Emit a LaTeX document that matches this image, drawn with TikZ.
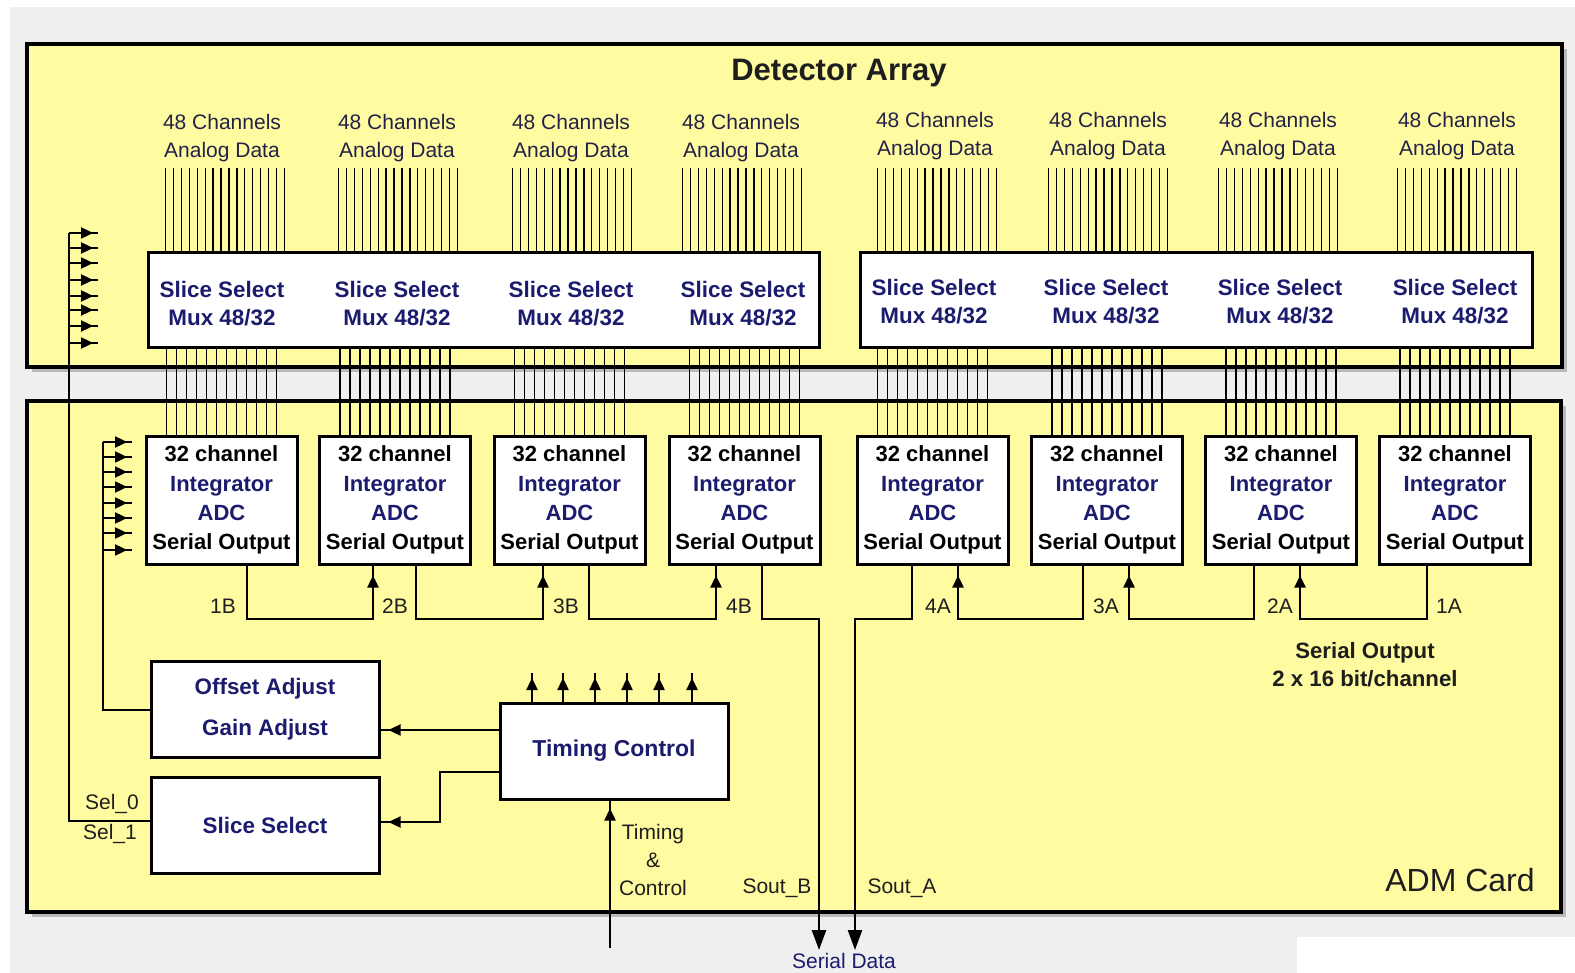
\documentclass[tikz,border=0pt]{standalone}
\usepackage{fontspec}
\setmainfont{Liberation Sans}
\usetikzlibrary{arrows.meta,decorations.markings}
\definecolor{bggray}{RGB}{239,239,239}
\definecolor{cardyellow}{RGB}{255,251,160}
\definecolor{navy}{RGB}{28,28,110}
\definecolor{labnavy}{RGB}{34,34,72}
\definecolor{labblack}{RGB}{30,30,30}
\definecolor{shadowgray}{RGB}{185,185,185}
\tikzset{
  panel/.style={draw=black, line width=1.6pt, fill=cardyellow, inner sep=0pt},
  whitebox/.style={draw=black, line width=1.5pt, fill=white, inner sep=0pt},
  adcbox/.style={whitebox, minimum width=75.5pt, minimum height=64pt, align=center,
     font=\bfseries\fontsize{11}{14.6}\selectfont, text=black},
  wire/.style={line width=1.2pt},
  thinwire/.style={line width=0.7pt},
  tipat/.style={postaction={decorate}, decoration={markings,
     mark=at position -#1 with {\arrow{Triangle[length=6pt,width=5.5pt]}}}},
  bigtip/.style={-{Triangle[length=10pt,width=7pt]}},
  lab/.style={font=\fontsize{10.5}{14}\selectfont, text=labblack, inner sep=0pt, align=center},
  chlab/.style={lab, text=labnavy},
  muxlab/.style={font=\bfseries\fontsize{11.2}{14}\selectfont, text=navy, inner sep=0pt, align=center},
  blacklab/.style={font=\bfseries\fontsize{11.1}{14}\selectfont, text=labblack, inner sep=0pt, align=center},
  title/.style={font=\bfseries\fontsize{15.5}{18}\selectfont, text=labblack, inner sep=0pt},
}
\begin{document}
\begin{tikzpicture}[x=0.5pt, y=-0.5pt]
\useasboundingbox (0,0) rectangle (1575,973);
% background
\fill[white] (0,0) rectangle (1575,973);
\fill[bggray] (10,7) rectangle (1575,973);
\fill[white] (1297,937) rectangle (1575,973);
% shadows
\fill[shadowgray] (32,49) rectangle (1567,372);
\fill[shadowgray] (32,406) rectangle (1566,917);
% panels
\node[panel, minimum width=767.5pt, minimum height=161.5pt] (detector) at (794.5,205.5) {};
\node[panel, minimum width=767pt, minimum height=255.5pt] (adm) at (794,656.5) {};
\node[title] (tdet) at (839,73) {Detector Array};
\node[font=\fontsize{16}{18}\selectfont, text=labblack, inner sep=0pt] (tadm) at (1460,880) {ADM Card};

% analog data lines and labels
\foreach \c in {225,398,572,742,937,1108,1278,1457}{
  \foreach \k in {0,...,15}{
    \draw[thinwire] ({\c-59.25+7.9*\k},168) -- ({\c-59.25+7.9*\k},253);
  }
}
\foreach \c/\yl [count=\i] in {222/138,397/138,571/138,741/138,935/136,1108/136,1278/136,1457/136}{
  \node[chlab] (ch\i) at (\c,\yl) {48 Channels\\Analog Data};
}

% mux boxes
\node[whitebox, minimum width=335.5pt, minimum height=47.5pt] (muxL) at (483.5,300.5) {};
\node[whitebox, minimum width=336pt, minimum height=47.5pt] (muxR) at (1196,300.5) {};
\foreach \c/\yl [count=\i] in {222/304,397/304,571/304,743/304,934/302,1106/302,1280/302,1455/302}{
  \node[muxlab] (mux\i) at (\c,\yl) {Slice Select\\Mux 48/32};
}

% ADC boxes
\foreach \c [count=\i] in {221.5,395,569.5,744.5,932.5,1107,1281,1455}{
  \foreach \k in {0,...,11}{
    \draw[thinwire] ({\c-55+10*\k},348) -- ({\c-55+10*\k},436);
  }
  \node[adcbox] (adc\i) at (\c,500) {32 channel\\\textcolor{navy}{Integrator}\\\textcolor{navy}{ADC}\\Serial Output};
}

% B chain
\draw[wire, tipat=5pt] (adc1.south -| 247,0) -- (247,619) -- (373,619) -- (adc2.south -| 373,0);
\draw[wire, tipat=5pt] (adc2.south -| 416,0) -- (416,619) -- (543,619) -- (adc3.south -| 543,0);
\draw[wire, tipat=5pt] (adc3.south -| 589,0) -- (589,619) -- (716,619) -- (adc4.south -| 716,0);
\coordinate (soutB) at (819,950);
\draw[wire, bigtip] (adc4.south -| 762,0) -- (762,619) -- (819,619) -- (soutB);
% A chain
\draw[wire, tipat=5pt] (adc8.south -| 1427,0) -- (1427,619) -- (1300,619) -- (adc7.south -| 1300,0);
\draw[wire, tipat=5pt] (adc7.south -| 1254,0) -- (1254,619) -- (1129,619) -- (adc6.south -| 1129,0);
\draw[wire, tipat=5pt] (adc6.south -| 1083,0) -- (1083,619) -- (958,619) -- (adc5.south -| 958,0);
\coordinate (soutA) at (855,950);
\draw[wire, bigtip] (adc5.south -| 912,0) -- (912,619) -- (855,619) -- (soutA);

\foreach \t/\x in {1B/223,2B/395,3B/566,4B/739,4A/938,3A/1106,2A/1280,1A/1449}{
  \node[lab] (l\t) at (\x,606) {\t};
}
\node[lab] (lsoutb) at (777,888) {Sout\_B};
\node[lab] (lsouta) at (902,888) {Sout\_A};
\node[lab, text=navy] (lserial) at (844,961) {Serial Data};
\node[blacklab] (lserout) at (1365,665) {Serial Output\\2 x 16 bit/channel};

% lower-left blocks
\node[whitebox, minimum width=114pt, minimum height=48pt, align=center,
      font=\bfseries\fontsize{11.2}{20.5}\selectfont, text=navy] (offset) at (265,709) {Offset Adjust\\Gain Adjust};
\node[whitebox, minimum width=114pt, minimum height=48pt,
      font=\bfseries\fontsize{11.2}{14}\selectfont, text=navy] (slice) at (265,825) {Slice Select};
\node[whitebox, minimum width=114pt, minimum height=48pt,
      font=\bfseries\fontsize{11.5}{14}\selectfont, text=navy] (timing) at (614,751) {Timing Control};

% timing outputs (top)
\foreach \x in {532,563,595,627,659,692}{
  \draw[wire, tipat=2.5pt] (timing.north -| \x,0) -- (\x,673);
}
% timing to offset / slice
\draw[wire, tipat=4pt] (timing.west |- 0,730) -- (offset.east |- 0,730);
\draw[wire, tipat=4pt] (timing.west |- 0,772) -- (440,772) -- (440,822) -- (slice.east |- 0,822);
% timing input
\coordinate (tin) at (610,948);
\draw[wire, tipat=4pt] (tin) -- (timing.south -| 610,0);
\node[lab] (ltc) at (653,860) {Timing\\\&\\Control};

% left control stacks
\draw[wire] (69,233) -- (69,821) -- (slice.west |- 0,821);
\foreach \y in {233,248,263,280,296,310,326,343}{
  \draw[wire, tipat=2.5pt] (69,\y) -- (98,\y);
}
\node[lab] (sel0) at (112,804) {Sel\_0};
\node[lab] (sel1) at (110,834) {Sel\_1};
\draw[wire] (103,442) -- (103,710) -- (offset.west |- 0,710);
\foreach \y in {442,457,472,487,503,518,533,550}{
  \draw[wire, tipat=2.5pt] (103,\y) -- (132,\y);
}
\end{tikzpicture}
\end{document}
